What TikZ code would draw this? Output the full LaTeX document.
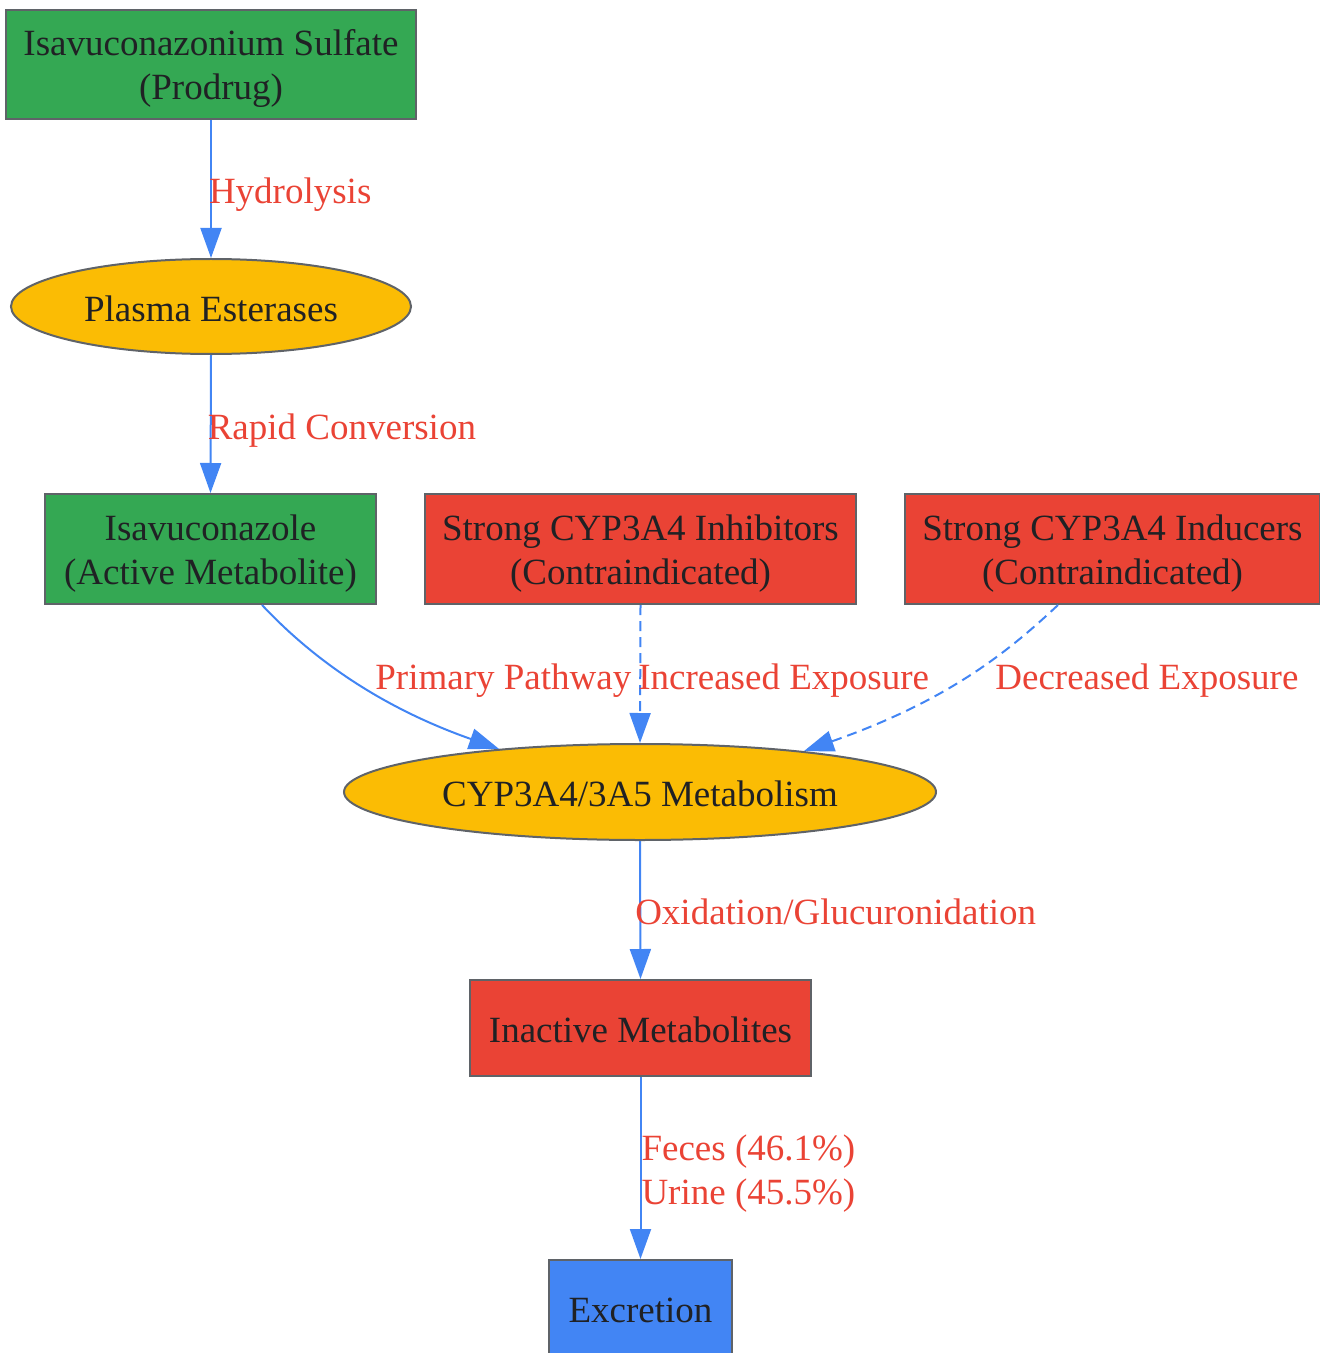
\documentclass[tikz,border=0pt]{standalone}
\usepackage{fontspec}
\setmainfont{Liberation Serif}
\usetikzlibrary{arrows.meta,calc,shapes.geometric}
\definecolor{gGreen}{HTML}{34A853}
\definecolor{gYellow}{HTML}{FBBC04}
\definecolor{gRed}{HTML}{EA4335}
\definecolor{gBlue}{HTML}{4285F4}
\definecolor{gBorder}{HTML}{5F6368}
\definecolor{gText}{HTML}{202124}
\newcommand\fstrut{\rule[-2.2pt]{0pt}{19.3pt}}
\begin{document}
\begin{tikzpicture}[x=0.5pt,y=-0.5pt,
  base/.style={draw=gBorder, line width=1pt, inner sep=0pt, text=gText, align=center,
    font=\fontsize{18.5}{22}\selectfont},
  boxnode/.style={base, rectangle},
  ellnode/.style={base, ellipse},
  conn/.style={draw=gBlue, line width=1pt, -{Triangle[length=15pt,width=10.5pt]}},
  dconn/.style={conn, dash pattern=on 5pt off 3pt},
  lbl/.style={text=gRed, inner sep=0pt, align=left, font=\fontsize{18.5}{22}\selectfont}]
\useasboundingbox (0,0) rectangle (1320,1353);
\begin{scope}
\clip (0,0) rectangle (1320,1353);
\node[boxnode, fill=gGreen, minimum width=205pt, minimum height=54.5pt] (pro) at (211,64.5) {\fstrut Isavuconazonium Sulfate\\(Prodrug)};
\node[ellnode, fill=gYellow, minimum width=200pt, minimum height=47.5pt] (est) at (211,306.5) {\fstrut Plasma Esterases};
\node[boxnode, fill=gGreen, minimum width=165.5pt, minimum height=55pt] (iso) at (210.5,549) {\fstrut Isavuconazole\\(Active Metabolite)};
\node[boxnode, fill=gRed, minimum width=215.5pt, minimum height=55pt] (inh) at (640.5,549) {\fstrut Strong CYP3A4 Inhibitors\\(Contraindicated)};
\node[boxnode, fill=gRed, minimum width=207.5pt, minimum height=55pt] (ind) at (1112.5,549) {\fstrut Strong CYP3A4 Inducers\\(Contraindicated)};
\node[ellnode, fill=gYellow, minimum width=296pt, minimum height=48pt] (cyp) at (640,792) {\fstrut CYP3A4/3A5 Metabolism};
\node[boxnode, fill=gRed, minimum width=170.5pt, minimum height=48pt] (ina) at (640.5,1028) {\fstrut Inactive Metabolites};
\node[boxnode, fill=gBlue, minimum width=91.5pt, minimum height=48pt] (exc) at (640.5,1308) {\fstrut Excretion};

\draw[conn] (pro.south) -- node[lbl, anchor=west, xshift=-1.5pt, yshift=-3pt] {Hydrolysis} (est.north);
\draw[conn] (est.south) -- node[lbl, anchor=west, xshift=-2pt, yshift=-3.5pt] {Rapid Conversion} (iso.north);
\draw[conn] ($(iso.south)+(51.5,0)$) .. controls (295,640) and (360,700) .. (cyp.163.8);
\draw[dconn] (inh.south) -- node[lbl, anchor=west, xshift=-1.5pt, yshift=-3.5pt] {Increased Exposure} (cyp.north);
\draw[dconn] ($(ind.south)+(-54.5,0)$) .. controls (1010,650) and (950,700) .. (cyp.14.3);
\draw[conn] (cyp.south) -- node[lbl, anchor=west, xshift=-3pt, yshift=-1pt] {Oxidation/Glucuronidation} (ina.north);
\draw[conn] (ina.south) -- node[lbl, anchor=west, yshift=-3pt] {Feces (46.1\%)\\Urine (45.5\%)} (exc.north);
\node[lbl, anchor=west] (lpp) at (375,681) {Primary Pathway};
\node[lbl, anchor=west] (lde) at (995,681) {Decreased Exposure};
\end{scope}
\end{tikzpicture}
\end{document}
